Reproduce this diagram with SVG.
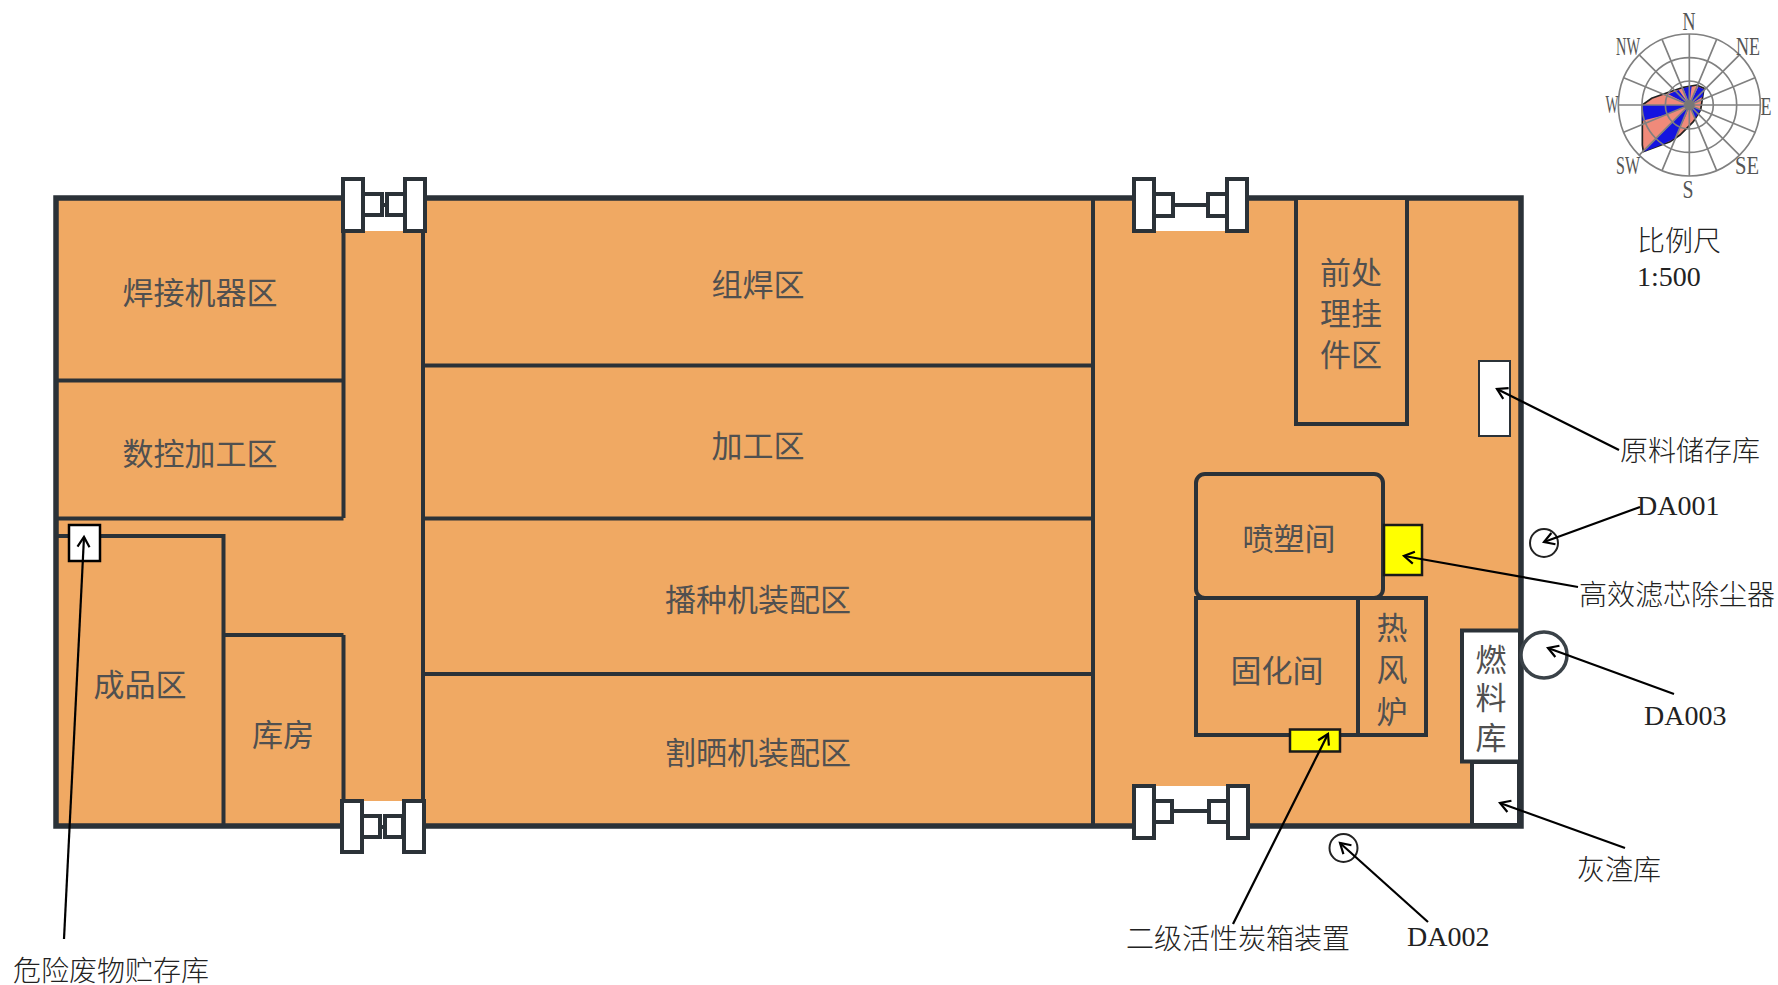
<svg xmlns="http://www.w3.org/2000/svg" width="1778" height="985" viewBox="0 0 1778 985">
<defs>
<marker id="arrow" markerUnits="userSpaceOnUse" markerWidth="20" markerHeight="20" refX="15" refY="10" orient="auto"><path d="M5 4 L15 10 L5 16" fill="none" stroke="#000" stroke-width="2.2"/></marker>
</defs>
<style>
.w{stroke:#2b3238;stroke-width:4;fill:none}
.o{fill:#f0a963;stroke:#2b3238;stroke-width:4}
.g{fill:#fff;stroke:#2b3238;stroke-width:4}
.b{fill:#fff;stroke:#2b3238;stroke-width:2}
.y{fill:#ffff00;stroke:#1a1a1a;stroke-width:2.5}
.t{font-family:"Noto Sans CJK SC","Noto Sans",sans-serif;font-size:31px;fill:#505050;text-anchor:middle;font-weight:400}
.l{font-family:"Liberation Serif","Noto Sans CJK SC",serif;font-size:28px;fill:#222;font-weight:300}
.c{font-family:"Liberation Serif",serif;font-size:25px;fill:#555;text-anchor:middle}
.a{fill:none;stroke:#000;stroke-width:2.2;marker-end:url(#arrow)}
.s{fill:none;stroke:#808080;stroke-width:5}
</style>
<rect id="plant-floor" x="56" y="198" width="1465" height="628" fill="#f0a963" stroke="#2b3238" stroke-width="5.5"/>
<g id="walls">
<path class="w" d="M343.500 197V518M343.500 635V825M423 197V825M1093 197V825M57 380.500H343.500M57 518.500H343.500M423 365.500H1093M423 518.500H1093M423 674H1093"/>
</g>
<g id="gate-nw">
<rect x="364" y="194" width="40" height="37" fill="#fff"/>
<path class="w" d="M382 205H387"/>
<rect class="g" x="363" y="194" width="19" height="21"/><rect class="g" x="387" y="194" width="18" height="21"/>
<rect class="g" x="343" y="179" width="20" height="52"/><rect class="g" x="405" y="179" width="20" height="52"/>
</g>
<g id="gate-sw">
<rect x="363" y="801" width="40" height="30" fill="#fff"/>
<path class="w" d="M380 827H385"/>
<rect class="g" x="362" y="816" width="18" height="21"/><rect class="g" x="385" y="816" width="18" height="21"/>
<rect class="g" x="342" y="801" width="20" height="51"/><rect class="g" x="404" y="801" width="20" height="51"/>
</g>
<g id="gate-ne">
<rect x="1155" y="194" width="72" height="37" fill="#fff"/>
<path class="w" d="M1173 205H1207"/>
<rect class="g" x="1154" y="194" width="19" height="22"/><rect class="g" x="1208" y="194" width="19" height="22"/>
<rect class="g" x="1134" y="179" width="20" height="52"/><rect class="g" x="1227" y="179" width="20" height="52"/>
</g>
<g id="gate-se">
<rect x="1155" y="786" width="73" height="45" fill="#fff"/>
<path class="w" d="M1172 811H1209"/>
<rect class="g" x="1154" y="801" width="18" height="21"/><rect class="g" x="1209" y="801" width="19" height="21"/>
<rect class="g" x="1134" y="786" width="20" height="52"/><rect class="g" x="1228" y="786" width="20" height="52"/>
</g>
<g id="weld-robot"><text class="t" x="200" y="304">焊接机器区</text></g>
<g id="cnc"><text class="t" x="200" y="465">数控加工区</text></g>
<g id="finished"><path class="w" d="M57 536H223.500V825"/><text class="t" x="140" y="696">成品区</text></g>
<g id="storeroom"><path class="w" d="M223.500 635H343.500"/><text class="t" x="283" y="746">库房</text></g>
<g id="assembly-weld"><text class="t" x="758" y="296">组焊区</text></g>
<g id="machining"><text class="t" x="758" y="457">加工区</text></g>
<g id="seeder"><text class="t" x="758" y="611">播种机装配区</text></g>
<g id="swather"><text class="t" x="758" y="764">割晒机装配区</text></g>
<g id="pretreat"><rect class="o" x="1296" y="198" width="111" height="226"/><text class="t"><tspan x="1351" y="284">前处</tspan><tspan x="1351" y="325">理挂</tspan><tspan x="1351" y="366">件区</tspan></text></g>
<g id="raw-store"><rect class="b" x="1479" y="361" width="31" height="75"/></g>
<g id="curing"><rect class="o" x="1196" y="598" width="162" height="137"/><text class="t" x="1277" y="682">固化间</text></g>
<g id="spray"><rect class="o" x="1196" y="474" width="187" height="124" rx="9"/><text class="t" x="1289" y="550">喷塑间</text></g>
<g id="furnace"><rect class="o" x="1358" y="598" width="68" height="137"/><text class="t"><tspan x="1392" y="639">热</tspan><tspan x="1392" y="681">风</tspan><tspan x="1392" y="723">炉</tspan></text></g>
<g id="fuel"><rect class="g" x="1462" y="630.500" width="58" height="131"/><text class="t"><tspan x="1491" y="671">燃</tspan><tspan x="1491" y="709">料</tspan><tspan x="1491" y="749">库</tspan></text></g>
<g id="ash"><rect class="g" x="1472" y="762" width="47" height="63" stroke-width="3"/></g>
<g id="filter"><rect class="y" x="1384" y="525" width="38" height="50"/></g>
<g id="carbon"><rect class="y" x="1290" y="729.500" width="50" height="22"/></g>
<g id="hazard"><rect x="69" y="525" width="31" height="36" fill="#fff" stroke="#000" stroke-width="2.5"/></g>
<g id="da001"><circle cx="1544" cy="543" r="14" fill="#fff" stroke="#222" stroke-width="2"/></g>
<g id="da002"><circle cx="1343.500" cy="848" r="14" fill="#fff" stroke="#222" stroke-width="2"/></g>
<g id="da003"><circle cx="1544" cy="655" r="23" fill="#fff" stroke="#3a4248" stroke-width="3.500"/></g>
<g id="connectors">
<path class="a" d="M1619 450L1497 389"/>
<path class="a" d="M1640 507L1544 542"/>
<path class="a" d="M1578 587L1404 556"/>
<path class="a" d="M1674 694L1548 648"/>
<path class="a" d="M1625 848L1500 803"/>
<path class="a" d="M1233 924L1328 734"/>
<path class="a" d="M1428 922L1340 843"/>
<path class="a" d="M64 939L84 537"/>
</g>
<g id="labels">
<text class="l" x="1620" y="461">原料储存库</text>
<text class="l" x="1637" y="515">DA001</text>
<text class="l" x="1579" y="605">高效滤芯除尘器</text>
<text class="l" x="1644" y="725">DA003</text>
<text class="l" x="1577" y="880">灰渣库</text>
<text class="l" x="1407" y="946">DA002</text>
<text class="l" x="1126" y="949">二级活性炭箱装置</text>
<text class="l" x="13" y="981">危险废物贮存库</text>
<text class="l" x="1637" y="251">比例尺</text>
<text class="l" x="1637" y="286">1:500</text>
</g>
<g id="wind-rose">
<g transform="translate(1580 0) scale(.33333)">
<polygon points="187,315 215,295 270,275 310,262 350,255 372,265 362,330 340,365 300,405 270,425 190,455 187,435" fill="#f08a7a" stroke="#222" stroke-width="5"/>
<polygon points="328,315 187,315 187,362 255,345" fill="#1414e0"/>
<polygon points="328,315 192,455 250,432 285,415 318,345" fill="#1414e0"/>
<polygon points="328,315 265,283 296,270" fill="#1414e0"/>
<polygon points="328,315 310,265 335,258" fill="#1414e0"/>
<polygon points="328,315 355,260 372,268 368,290" fill="#1414e0"/>
<polygon points="328,315 362,330 345,355" fill="#1414e0"/>
<circle class="s" cx="328" cy="315" r="72"/><circle class="s" cx="328" cy="315" r="142"/><circle class="s" cx="328" cy="315" r="213"/>
<path class="s" d="M328 102V528M115 315H541M177 164L479 466M177 466L479 164M246 118L410 512M246 512L410 118M131 233L525 397M131 397L525 233"/>
<circle cx="328" cy="315" r="16" fill="#777"/>
</g>
<text class="c" x="1689" y="30" textLength="13" lengthAdjust="spacingAndGlyphs">N</text>
<text class="c" x="1688" y="198" textLength="11" lengthAdjust="spacingAndGlyphs">S</text>
<text class="c" x="1612" y="113" textLength="13" lengthAdjust="spacingAndGlyphs">W</text>
<text class="c" x="1766" y="115" textLength="11" lengthAdjust="spacingAndGlyphs">E</text>
<text class="c" x="1628" y="55" textLength="24" lengthAdjust="spacingAndGlyphs">NW</text>
<text class="c" x="1748" y="55" textLength="24" lengthAdjust="spacingAndGlyphs">NE</text>
<text class="c" x="1628" y="174" textLength="24" lengthAdjust="spacingAndGlyphs">SW</text>
<text class="c" x="1747" y="174" textLength="24" lengthAdjust="spacingAndGlyphs">SE</text>
</g>
</svg>
